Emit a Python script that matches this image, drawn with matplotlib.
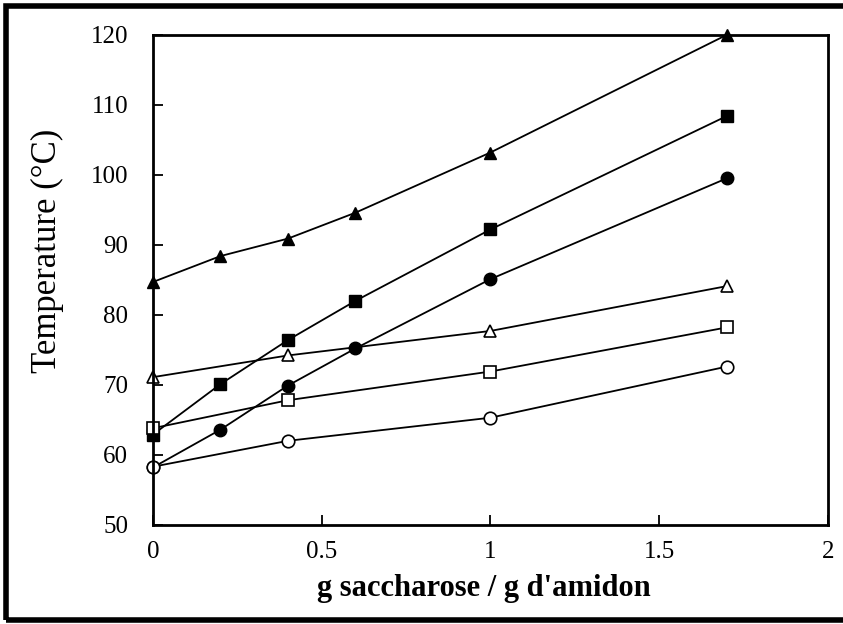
import matplotlib.pyplot as plt
from matplotlib.patches import Rectangle

x_full = [0, 0.2, 0.4, 0.6, 1.0, 1.7]
x_part = [0, 0.4, 1.0, 1.7]

tri_filled = [84.7, 88.4, 90.9, 94.6, 103.2, 120.0]
sq_filled = [62.9, 70.1, 76.4, 82.0, 92.2, 108.4]
circ_filled = [58.2, 63.6, 69.9, 75.2, 85.1, 99.5]
tri_open = [71.1, 74.2, 77.7, 84.1]
sq_open = [63.8, 67.8, 71.9, 78.2]
circ_open = [58.3, 62.0, 65.3, 72.6]

xticks = [0, 0.5, 1, 1.5, 2]
xticklabels = ['0', '0.5', '1', '1.5', '2']
yticks = [50, 60, 70, 80, 90, 100, 110, 120]

plt.rcParams['font.family'] = ['Liberation Serif', 'DejaVu Serif']

fig = plt.figure(figsize=(8.43, 6.24), dpi=100)
ax = fig.add_axes([0.1815, 0.159, 0.8005, 0.785])

kw = dict(color='black', lw=1.3, clip_on=False)
ax.plot(x_full, tri_filled, marker='^', ms=8, mfc='black', mec='black', **kw)
ax.plot(x_full, sq_filled, marker='s', ms=8, mfc='black', mec='black', **kw)
ax.plot(x_full, circ_filled, marker='o', ms=9, mfc='black', mec='black', **kw)
ax.plot(x_part, tri_open, marker='^', ms=8, mfc='white', mec='black', mew=1.2, **kw)
ax.plot(x_part, sq_open, marker='s', ms=8, mfc='white', mec='black', mew=1.2, **kw)
ax.plot(x_part, circ_open, marker='o', ms=9, mfc='white', mec='black', mew=1.2, **kw)

ax.set_xlim(0, 2)
ax.set_ylim(50, 120)
ax.set_xticks(xticks)
ax.set_xticklabels(xticklabels)
ax.set_yticks(yticks)
ax.tick_params(direction='in', length=7, width=1.3, labelsize=18)
ax.tick_params(axis='x', pad=12)
ax.tick_params(axis='y', pad=18)
for s in ax.spines.values():
    s.set_linewidth(2)

ax.set_xlabel("g saccharose / g d'amidon", fontsize=22, fontweight='bold')
ax.xaxis.set_label_coords(0.49, -0.1)
ax.set_ylabel('Temperature (°C)', fontsize=25)
ax.yaxis.set_label_coords(-0.132, 0.56)

fig.patches.append(Rectangle((0.007, 0.006), 1.2, 0.985, transform=fig.transFigure,
                             fill=False, ec='black', lw=4))

fig.savefig('out.png', dpi=100)
